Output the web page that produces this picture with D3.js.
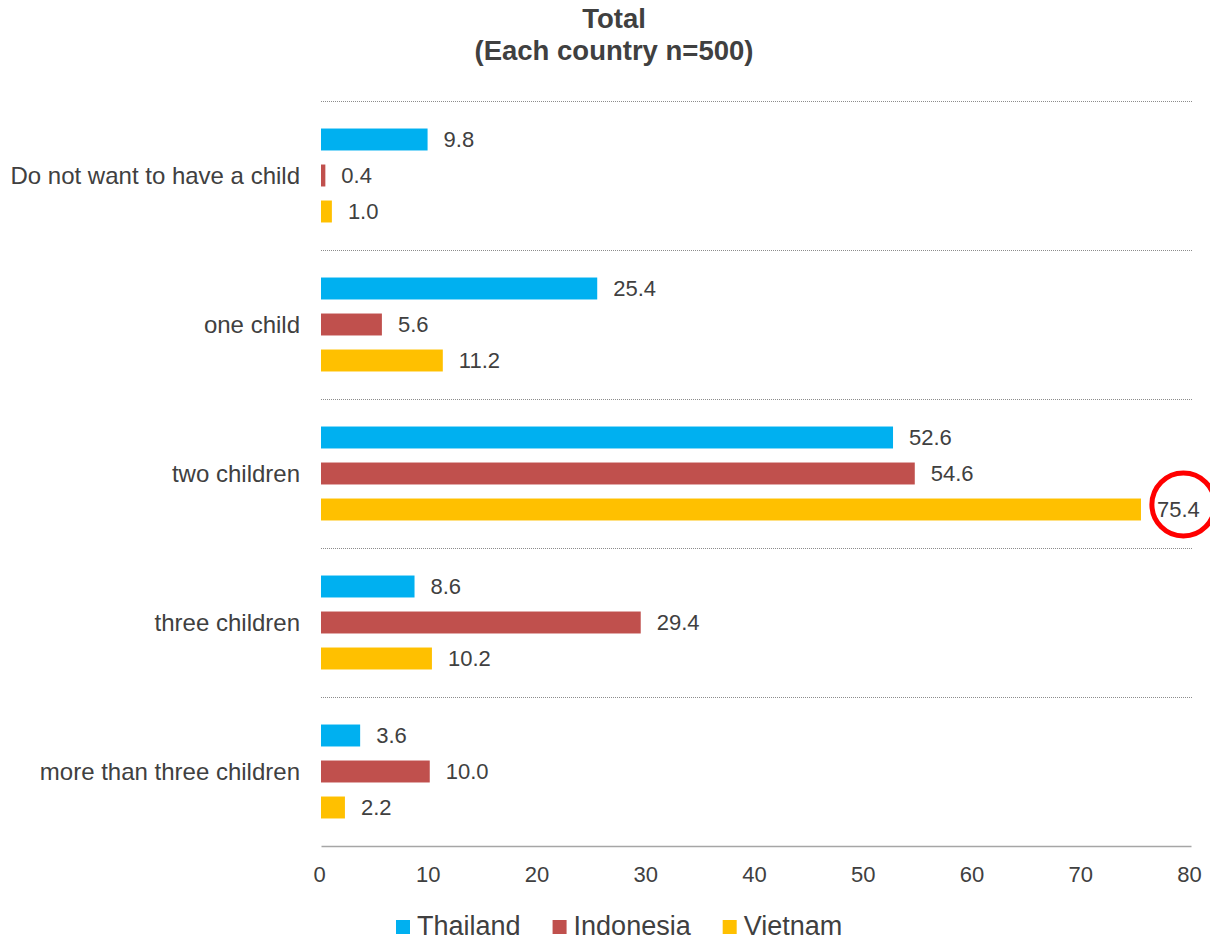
<!DOCTYPE html>
<html>
<head>
<meta charset="utf-8">
<script src="https://cdn.jsdelivr.net/npm/d3@7"></script>
<style>
  body { margin: 0; background: #fff; }
  svg { font-family: "Liberation Sans", Arial, sans-serif; }
</style>
</head>
<body>
<svg id="chart" width="1210" height="942"></svg>
<script>
// data
const categories = ["Do not want to have a child", "one child", "two children", "three children", "more than three children"];
const countries = ["Thailand", "Indonesia", "Vietnam"];
const thailand = [9.8, 25.4, 52.6, 8.6, 3.6];
const indonesia = [0.4, 5.6, 54.6, 29.4, 10.0];
const vietnam = [1.0, 11.2, 75.4, 10.2, 2.2];
const xTicks = [0, 10, 20, 30, 40, 50, 60, 70, 80];
const highlight = { category: "two children", country: "Vietnam" };

const colors = { Thailand: "#00B0F0", Indonesia: "#C0504D", Vietnam: "#FFC000" };
const textColor = "#404040";

const valuesByCountry = { Thailand: thailand, Indonesia: indonesia, Vietnam: vietnam };

const rows = categories.map((c, i) => ({
  category: c,
  values: countries.map(k => ({ country: k, value: valuesByCountry[k][i] }))
}));

const margin = { top: 101, left: 321, right: 19, bottom: 96 };
const width = 1210 - margin.left - margin.right;
const height = 942 - margin.top - margin.bottom;

const svg = d3.select("#chart");

// title
const title = svg.append("text")
  .attr("x", 614)
  .attr("y", 28)
  .attr("text-anchor", "middle")
  .attr("font-weight", "bold")
  .attr("font-size", 27.5)
  .attr("fill", textColor);
title.append("tspan").attr("x", 614).text("Total");
title.append("tspan").attr("x", 614).attr("dy", 32).text("(Each country n=500)");

const g = svg.append("g")
  .attr("transform", `translate(${margin.left},${margin.top})`);

const x = d3.scaleLinear().domain([0, 80]).range([0, width]);

const y0 = d3.scaleBand().domain(categories).range([0, height]);

const y1 = d3.scaleBand()
  .domain(countries)
  .range([20.5, y0.bandwidth() - 20.5])
  .paddingInner(0.39)
  .paddingOuter(0.195);

// dotted separators
g.selectAll("line.sep")
  .data(categories)
  .enter()
  .append("line")
  .attr("class", "sep")
  .attr("x1", 0)
  .attr("x2", width + 2)
  .attr("y1", d => Math.round(y0(d)) + 0.5)
  .attr("y2", d => Math.round(y0(d)) + 0.5)
  .attr("stroke", "#8c8c8c")
  .attr("stroke-width", 1)
  .attr("stroke-dasharray", "1,1");

// bars
const groups = g.selectAll("g.cat")
  .data(rows)
  .enter()
  .append("g")
  .attr("class", "cat")
  .attr("transform", d => `translate(0,${y0(d.category)})`);

groups.selectAll("rect")
  .data(d => d.values)
  .enter()
  .append("rect")
  .attr("x", 0)
  .attr("y", d => y1(d.country))
  .attr("width", d => x(d.value))
  .attr("height", y1.bandwidth())
  .attr("fill", d => colors[d.country]);

groups.selectAll("text.val")
  .data(d => d.values.map(v => Object.assign({ category: d.category }, v)))
  .enter()
  .append("text")
  .attr("class", "val")
  .attr("x", d => x(d.value) + 16)
  .attr("y", d => y1(d.country) + y1.bandwidth() / 2)
  .attr("dy", "0.35em")
  .attr("font-size", 22)
  .attr("fill", textColor)
  .text(d => d.value.toFixed(1));

// category labels
g.selectAll("text.cat")
  .data(categories)
  .enter()
  .append("text")
  .attr("class", "cat")
  .attr("x", -21)
  .attr("y", d => y0(d) + y0.bandwidth() / 2)
  .attr("dy", "0.35em")
  .attr("text-anchor", "end")
  .attr("font-size", 24)
  .attr("fill", textColor)
  .text(d => d);

// x axis
const xAxis = g.append("g")
  .attr("transform", `translate(0,${height})`)
  .call(d3.axisBottom(x).tickValues(xTicks).tickSize(0).tickPadding(20));
xAxis.select(".domain").attr("stroke", "#a6a6a6").attr("stroke-width", 1.5);
xAxis.selectAll(".tick text")
  .attr("x", -2)
  .attr("font-size", 22)
  .attr("font-family", "Liberation Sans, Arial, sans-serif")
  .attr("fill", textColor);

// highlight circle around the chosen value label
const hl = groups.selectAll("text.val")
  .filter(d => d.category === highlight.category && d.country === highlight.country);
hl.each(function(d) {
  const bb = this.getBBox();
  g.append("circle")
    .attr("cx", bb.x + bb.width / 2 + 5)
    .attr("cy", y0(d.category) + y1(d.country) + y1.bandwidth() / 2 - 5)
    .attr("r", 31.5)
    .attr("fill", "none")
    .attr("stroke", "#FF0000")
    .attr("stroke-width", 5);
});

// legend
const legend = svg.append("g")
  .attr("transform", "translate(396,926)");
let lx = 0;
countries.forEach(k => {
  const item = legend.append("g").attr("transform", `translate(${lx},0)`);
  item.append("rect")
    .attr("x", 0)
    .attr("y", -6)
    .attr("width", 14)
    .attr("height", 14)
    .attr("fill", colors[k]);
  const t = item.append("text")
    .attr("x", 21)
    .attr("y", 0)
    .attr("dy", "0.35em")
    .attr("font-size", 27)
    .attr("fill", textColor)
    .text(k);
  lx += 21 + t.node().getComputedTextLength() + 32;
});
</script>
</body>
</html>
